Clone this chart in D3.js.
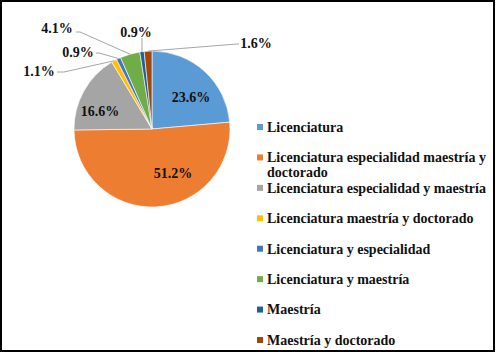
<!DOCTYPE html>
<html><head><meta charset="utf-8">
<script src="https://cdn.jsdelivr.net/npm/d3@7"></script>
<style>
html,body{margin:0;padding:0;background:#fff;}
svg{display:block;}
text{font-family:"Liberation Serif","Times New Roman",serif;font-weight:bold;}
</style></head>
<body>
<svg id="chart" width="496" height="352"></svg>
<script>
const categories = [
  "Licenciatura",
  "Licenciatura especialidad maestría y doctorado",
  "Licenciatura especialidad y maestría",
  "Licenciatura maestría y doctorado",
  "Licenciatura y especialidad",
  "Licenciatura y maestría",
  "Maestría",
  "Maestría y doctorado"
];
const values = [23.6, 51.2, 16.6, 1.1, 0.9, 4.1, 0.9, 1.6];
const valueLabels = ["23.6%", "51.2%", "16.6%", "1.1%", "0.9%", "4.1%", "0.9%", "1.6%"];
const colors = ["#5B9BD5", "#ED7D31", "#A5A5A5", "#FFC000", "#4472C4", "#70AD47", "#255E91", "#9E480E"];
const legendLines = [
  ["Licenciatura"],
  ["Licenciatura especialidad maestría y", "doctorado"],
  ["Licenciatura especialidad y maestría"],
  ["Licenciatura maestría y doctorado"],
  ["Licenciatura y especialidad"],
  ["Licenciatura y maestría"],
  ["Maestría"],
  ["Maestría y doctorado"]
];
// label layout: offset of label centre from pie centre; leader start (relative) for outside labels
const labelLayout = [
  {dx: 39, dy: -32},
  {dx: 21, dy: 44},
  {dx: -52, dy: -18},
  {dx: -113, dy: -58, line: [[-95, -57], [-88, -57]]},
  {dx: -74, dy: -77, line: [[-56, -76], [-53, -76]]},
  {dx: -95, dy: -101, line: [[-76, -97], [-72, -97]]},
  {dx: -16, dy: -97, line: [[-10, -91], [-10, -88]]},
  {dx: 104, dy: -86, line: [[87, -85], [85, -85]]}
];

const svg = d3.select("#chart");
const W = 496, H = 352;
svg.append("rect").attr("x", 1).attr("y", 1).attr("width", W - 3).attr("height", H - 2)
  .attr("fill", "#fff").attr("stroke", "#000").attr("stroke-width", 2);

const cx = 152, cy = 129, R = 78;
const g = svg.append("g").attr("transform", `translate(${cx},${cy})`);
const pie = d3.pie().sort(null).value(d => d);
const arcs = pie(values);
const arc = d3.arc().innerRadius(0).outerRadius(R);

g.selectAll("path.slice").data(arcs).enter().append("path")
  .attr("class", "slice")
  .attr("d", arc)
  .attr("fill", (d, i) => colors[i])
  .attr("stroke", "#fff").attr("stroke-width", 0.6);

// leader lines
arcs.forEach((d, i) => {
  const L = labelLayout[i];
  if (!L.line) return;
  const mid = (d.startAngle + d.endAngle) / 2;
  const ex = R * Math.sin(mid), ey = -R * Math.cos(mid);
  const pts = L.line.concat([[ex, ey]]);
  g.append("path").attr("d", d3.line()(pts))
    .attr("fill", "none").attr("stroke", "#A6A6A6").attr("stroke-width", 1);
});

g.selectAll("text.lbl").data(arcs).enter().append("text")
  .attr("class", "lbl")
  .attr("x", (d, i) => labelLayout[i].dx)
  .attr("y", (d, i) => labelLayout[i].dy)
  .attr("dy", "0.35em")
  .attr("text-anchor", "middle")
  .attr("font-size", 14)
  .attr("fill", "#111")
  .text((d, i) => valueLabels[i]);

// legend
const legendY = d3.scalePoint().domain(d3.range(categories.length)).range([127, 340]);
const lg = svg.append("g");
categories.forEach((c, i) => {
  const y = legendY(i);
  lg.append("rect").attr("x", 257).attr("y", y - 3).attr("width", 6).attr("height", 6).attr("fill", colors[i]);
  legendLines[i].forEach((t, j) => {
    lg.append("text").attr("x", 267).attr("y", y + j * 15).attr("dy", "0.35em")
      .attr("font-size", 14).attr("fill", "#111").text(t);
  });
});
</script>
</body></html>
